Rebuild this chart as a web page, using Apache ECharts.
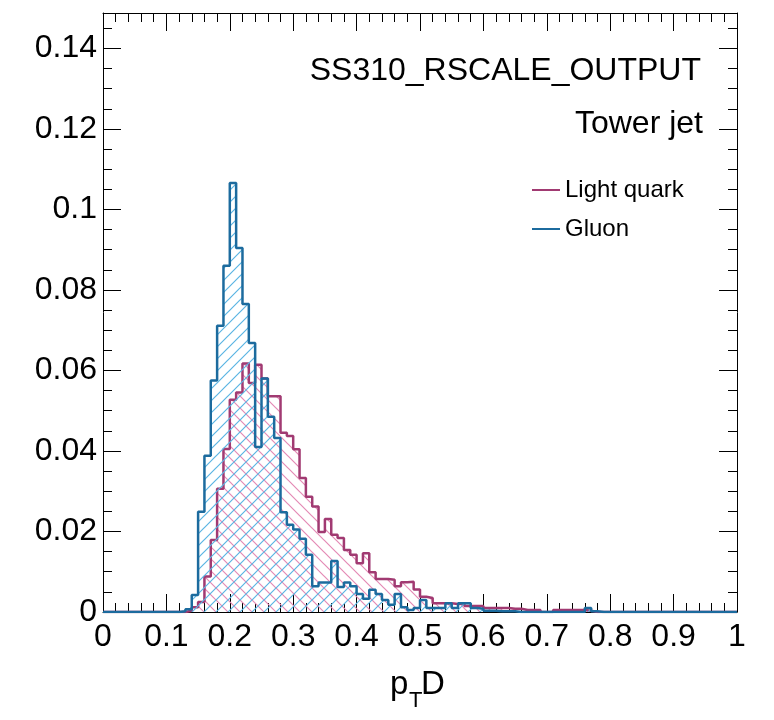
<!DOCTYPE html>
<html>
<head>
<meta charset="utf-8">
<script src="https://cdn.jsdelivr.net/npm/echarts@6/dist/echarts.min.js"></script>
<style>
html,body{margin:0;padding:0;background:#fff;}
#chart{width:774px;height:720px;}
</style>
</head>
<body>
<div id="chart"></div>
<script>
// Bin width 0.01, 100 bins from 0 to 1
const binWidth = 0.01;
const lightQuark = [
  0,0,0,0,0,0,0,0,0,0,
  0,0,0,0.0003,0.0012,0.0025,0.0088,0.0179,0.0306,0.0405,
  0.0527,0.0545,0.0617,0.0569,0.0614,0.0580,0.0536,0.0536,0.0445,0.0437,
  0.0404,0.0333,0.0286,0.0262,0.0199,0.0231,0.0192,0.0184,0.0154,0.0142,
  0.0121,0.0146,0.0099,0.0082,0.0082,0.0080,0.0064,0.0074,0.0075,0.0056,
  0.0038,0.0035,0.0022,0.0022,0.0022,0.0020,0.0022,0.0015,0.0015,0.0015,
  0.0010,0.0010,0.0010,0.0010,0.0008,0.0008,0.0005,0.0005,0.0005,0,
  0,0.0005,0.0005,0.0005,0.0005,0.0005,0.0003,0,0,0,
  0,0,0,0,0,0,0,0,0,0,
  0,0,0,0,0,0,0,0,0,0
];
const gluon = [
  0,0,0,0,0,0,0,0,0,0,
  0,0,0.0002,0.0007,0.0042,0.0249,0.0388,0.0575,0.0711,0.0860,
  0.1066,0.0904,0.0765,0.0668,0.0410,0.0580,0.0485,0.0432,0.0248,0.0217,
  0.0205,0.0182,0.0142,0.0064,0.0073,0.0073,0.0127,0.0062,0.0073,0.0064,
  0.0045,0.0033,0.0055,0.0045,0.0030,0.0018,0.0045,0.0012,0.0005,0.0010,
  0.0030,0.0010,0.0010,0.0010,0.0022,0.0010,0.0022,0.0022,0.0010,0.0008,
  0.0003,0.0003,0.0002,0.0002,0.0002,0,0,0,0,0,
  0,0,0,0,0,0,0.0010,0.0002,0,0,
  0,0,0,0,0,0,0,0,0,0,
  0,0,0,0,0,0,0,0,0,0
];
const seriesNames = ['Light quark', 'Gluon'];
const xTickLabels = ['0','0.1','0.2','0.3','0.4','0.5','0.6','0.7','0.8','0.9','1'];
const yTickLabels = ['0','0.02','0.04','0.06','0.08','0.1','0.12','0.14'];

const quarkLine = '#a13a72';
const gluonLine = '#1c6b9e';
const quarkHatch = '#e48ab5';
const gluonHatch = '#5bb5e3';

function hatch(color, dir) {
  const s = 12;
  const c = document.createElement('canvas');
  c.width = s; c.height = s;
  const g = c.getContext('2d');
  g.strokeStyle = color;
  g.lineWidth = 1.2;
  g.beginPath();
  if (dir === '/') {
    g.moveTo(-2, s + 2); g.lineTo(s + 2, -2);
    g.moveTo(-2, 2); g.lineTo(2, -2);
    g.moveTo(s - 2, s + 2); g.lineTo(s + 2, s - 2);
  } else {
    g.moveTo(-2, -2); g.lineTo(s + 2, s + 2);
    g.moveTo(s - 2, -2); g.lineTo(s + 2, 2);
    g.moveTo(-2, s - 2); g.lineTo(2, s + 2);
  }
  g.stroke();
  return c;
}

function toSteps(vals) {
  const d = vals.map((v, i) => [+(i * binWidth).toFixed(2), v]);
  d.push([+(vals.length * binWidth).toFixed(2), vals[vals.length - 1]]);
  return d;
}

const fmt = v => String(+(+v).toFixed(2));
const font = 'Liberation Sans';

function xAx(pos, showLabel) {
  return {
    type: 'value', min: 0, max: 1, interval: 0.1, position: pos,
    axisLine: { show: true, onZero: false, lineStyle: { color: '#000', width: 1 } },
    axisTick: { show: true, inside: true, length: 18, lineStyle: { color: '#000', width: 1 } },
    minorTick: { show: true, splitNumber: 5, length: 9, lineStyle: { color: '#000', width: 1 } },
    splitLine: { show: false },
    axisLabel: { show: showLabel, fontSize: 32, color: '#000', fontFamily: font, margin: 9,
      formatter: v => { const i = Math.round(v * 10); return xTickLabels[i] !== undefined ? xTickLabels[i] : fmt(v); } }
  };
}
function yAx(pos, showLabel) {
  return {
    type: 'value', min: 0, max: 0.1488, interval: 0.02, position: pos,
    axisLine: { show: true, onZero: false, lineStyle: { color: '#000', width: 1 } },
    axisTick: { show: true, inside: true, length: 18, lineStyle: { color: '#000', width: 1 } },
    minorTick: { show: true, splitNumber: 4, length: 9, lineStyle: { color: '#000', width: 1 } },
    splitLine: { show: false },
    axisLabel: { show: showLabel, showMaxLabel: false, fontSize: 32, color: '#000', fontFamily: font, margin: 6,
      formatter: v => { const i = Math.round(v / 0.02); return yTickLabels[i] !== undefined ? yTickLabels[i] : fmt(v); } }
  };
}

const chart = echarts.init(document.getElementById('chart'), null, { renderer: 'canvas' });
chart.setOption({
  animation: false,
  backgroundColor: '#fff',
  grid: { left: 103, right: 37, top: 13, bottom: 108, containLabel: false },
  xAxis: [xAx('bottom', true), xAx('top', false)],
  yAxis: [yAx('left', true), yAx('right', false)],
  legend: {
    orient: 'vertical', left: 527, top: 173, itemWidth: 28, itemHeight: 2, itemGap: 15,
    icon: 'rect',
    textStyle: { fontSize: 24, color: '#000', fontFamily: font },
    data: seriesNames
  },
  graphic: [
    { type: 'text', right: 73, top: 55, style: { text: 'SS310_RSCALE_OUTPUT', fontSize: 32, fontFamily: font, fill: '#000' } },
    { type: 'text', right: 71, top: 108, style: { text: 'Tower jet', fontSize: 32, fontFamily: font, fill: '#000' } },
    { type: 'text', left: 390, top: 668, style: { text: 'p', fontSize: 33, fontFamily: font, fill: '#000' } },
    { type: 'text', left: 409, top: 690, style: { text: 'T', fontSize: 22, fontFamily: font, fill: '#000' } },
    { type: 'text', left: 421, top: 668, style: { text: 'D', fontSize: 33, fontFamily: font, fill: '#000' } }
  ],
  series: [
    {
      name: seriesNames[0], type: 'line', step: 'end', symbol: 'none',
      data: toSteps(lightQuark),
      itemStyle: { color: quarkLine },
      lineStyle: { color: quarkLine, width: 2.5 },
      areaStyle: { color: { image: hatch(quarkHatch, '\\'), repeat: 'repeat' }, opacity: 1 },
      z: 2
    },
    {
      name: seriesNames[1], type: 'line', step: 'end', symbol: 'none',
      data: toSteps(gluon),
      itemStyle: { color: gluonLine },
      lineStyle: { color: gluonLine, width: 2.5 },
      areaStyle: { color: { image: hatch(gluonHatch, '/'), repeat: 'repeat' }, opacity: 1 },
      z: 3
    }
  ]
});
</script>
</body>
</html>
